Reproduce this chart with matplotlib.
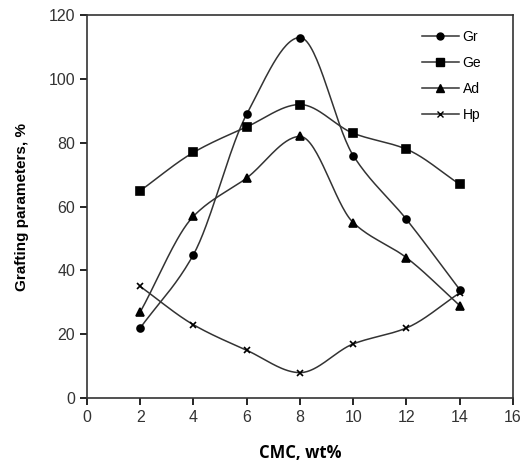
import numpy as np
import matplotlib.pyplot as plt

# CMC content (wt%)
cmc = [2, 4, 6, 8, 10, 12, 14]

# grafting parameters, %
gr = [22, 45, 89, 113, 76, 56, 34]
ge = [65, 77, 85, 92, 83, 78, 67]
ad = [27, 57, 69, 82, 55, 44, 29]
hp = [35, 23, 15, 8, 17, 22, 33]


def smooth(x, y, n=200):
    # shape-preserving cubic (pchip) so peaks stay on the data points
    x = np.asarray(x, float)
    y = np.asarray(y, float)
    h = np.diff(x)
    d = np.diff(y) / h
    m = np.zeros(len(x))
    for i in range(1, len(x) - 1):
        if d[i - 1] * d[i] > 0:
            w1 = 2 * h[i] + h[i - 1]
            w2 = h[i] + 2 * h[i - 1]
            m[i] = (w1 + w2) / (w1 / d[i - 1] + w2 / d[i])
    m[0] = d[0]
    m[-1] = d[-1]
    xs = np.linspace(x[0], x[-1], n)
    idx = np.clip(np.searchsorted(x, xs) - 1, 0, len(x) - 2)
    hh = h[idx]
    t = (xs - x[idx]) / hh
    h00 = 2 * t**3 - 3 * t**2 + 1
    h10 = t**3 - 2 * t**2 + t
    h01 = -2 * t**3 + 3 * t**2
    h11 = t**3 - t**2
    ys = h00 * y[idx] + h10 * hh * m[idx] + h01 * y[idx + 1] + h11 * hh * m[idx + 1]
    return xs, ys


fig = plt.figure(figsize=(5.24, 4.74), dpi=100, facecolor='w')
ax = fig.add_axes([0.166, 0.160, 0.813, 0.808])

series = [(gr, 'o', 'Gr', 5), (ge, 's', 'Ge', 6), (ad, '^', 'Ad', 6), (hp, 'x', 'Hp', 5)]
for vals, mk, lab, ms in series:
    xs, ys = smooth(cmc, vals)
    ax.plot(xs, ys, color='#333333', lw=1.1)
    ax.plot(cmc, vals, ls='none', marker=mk, color='black', ms=ms, mew=1.2)
    ax.plot([], [], color='#333333', lw=1.1, marker=mk, ms=ms, mfc='black',
            mec='black', label=lab)

ax.set_xlim(0, 16)
ax.set_ylim(0, 120)
ax.set_xticks(range(0, 17, 2))
ax.set_yticks(range(0, 121, 20))
ax.tick_params(direction='out', length=5, width=1.2, labelsize=11.5,
               labelcolor='#333333')
for s in ax.spines.values():
    s.set_linewidth(1.2)
    s.set_color('#333333')

for lbl in ax.get_xticklabels() + ax.get_yticklabels():
    lbl.set_family('Liberation Sans')

ax.set_xlabel('CMC, wt%', fontsize=12, fontweight='bold', family='Open Sans',
              labelpad=14)
ax.set_ylabel('Grafting parameters, %', fontsize=11, fontweight='bold',
              family='Liberation Sans', labelpad=14)

leg = ax.legend(loc='upper right', frameon=False,
                handlelength=2.6, labelspacing=0.88, handletextpad=0.3,
                bbox_to_anchor=(0.955, 0.995),
                prop={'family': 'Liberation Sans', 'size': 10})

fig.savefig('out.png', dpi=100)
